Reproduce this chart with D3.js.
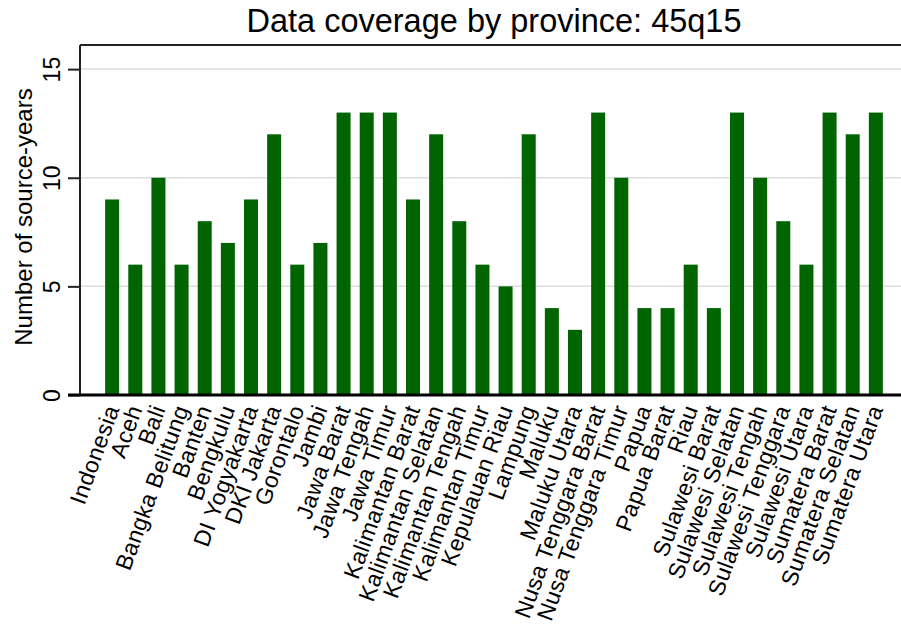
<!DOCTYPE html>
<html>
<head>
<meta charset="utf-8">
<script src="https://cdn.jsdelivr.net/npm/d3@7"></script>
<style>
  html, body { margin: 0; padding: 0; background: #fff; }
  svg { display: block; font-family: "Liberation Sans", Arial, sans-serif; }
</style>
</head>
<body>
<svg id="chart" width="901" height="625"></svg>
<script>
const provinces = [
  "Indonesia", "Aceh", "Bali", "Bangka Belitung", "Banten", "Bengkulu",
  "DI Yogyakarta", "DKI Jakarta", "Gorontalo", "Jambi", "Jawa Barat",
  "Jawa Tengah", "Jawa Timur", "Kalimantan Barat", "Kalimantan Selatan",
  "Kalimantan Tengah", "Kalimantan Timur", "Kepulauan Riau", "Lampung",
  "Maluku", "Maluku Utara", "Nusa Tenggara Barat", "Nusa Tenggara Timur",
  "Papua", "Papua Barat", "Riau", "Sulawesi Barat", "Sulawesi Selatan",
  "Sulawesi Tengah", "Sulawesi Tenggara", "Sulawesi Utara",
  "Sumatera Barat", "Sumatera Selatan", "Sumatera Utara"
];
const sourceYears = [
  9, 6, 10, 6, 8, 7,
  9, 12, 6, 7, 13,
  13, 13, 9, 12,
  8, 6, 5, 12,
  4, 3, 13, 10,
  4, 4, 6, 4, 13,
  10, 8, 6,
  13, 12, 13
];
const yTicks = [0, 5, 10, 15];
const yMax = 16.11;

const titleText = "Data coverage by province: 45q15";
const yTitle = "Number of source-years";

const svg = d3.select("#chart");
const plot = { left: 80, top: 45, bottom: 395, right: 906 };

const x = d3.scaleBand()
  .domain(provinces)
  .range([plot.left + 2, plot.right])
  .paddingInner(0.395)
  .paddingOuter(1)
  .align(0.5);

const y = d3.scaleLinear()
  .domain([0, yMax])
  .range([plot.bottom, plot.top]);

// horizontal grid lines
svg.append("g")
  .selectAll("line")
  .data(yTicks.filter(d => d > 0))
  .join("line")
  .attr("x1", plot.left)
  .attr("x2", 901)
  .attr("y1", d => y(d))
  .attr("y2", d => y(d))
  .attr("stroke", "#dedede")
  .attr("stroke-width", 1.5);

// bars
svg.append("g")
  .selectAll("rect")
  .data(provinces.map((p, i) => ({ p, v: sourceYears[i] })))
  .join("rect")
  .attr("x", d => x(d.p))
  .attr("width", x.bandwidth())
  .attr("y", d => y(d.v))
  .attr("height", d => y(0) - y(d.v))
  .attr("fill", "#006400");

// top frame line
svg.append("line")
  .attr("x1", plot.left).attr("x2", 901)
  .attr("y1", plot.top).attr("y2", plot.top)
  .attr("stroke", "#222").attr("stroke-width", 2);

// y axis
const yAxis = d3.axisLeft(y)
  .tickValues(yTicks)
  .tickSize(12)
  .tickPadding(0)
  .tickFormat(d3.format("d"));

const gy = svg.append("g")
  .attr("transform", `translate(${plot.left},0)`)
  .call(yAxis);
gy.select(".domain")
  .attr("d", `M0,${plot.top}V${plot.bottom}`)
  .attr("stroke", "#222")
  .attr("stroke-width", 2);
gy.selectAll(".tick line").attr("stroke", "#222").attr("stroke-width", 2);
gy.selectAll(".tick text")
  .attr("x", null).attr("dy", null)
  .attr("text-anchor", "middle")
  .attr("transform", "translate(-20,0) rotate(-90)")
  .attr("font-size", 23)
  .attr("font-family", "Liberation Sans, Arial, sans-serif")
  .attr("fill", "#000");

// x axis baseline
svg.append("line")
  .attr("x1", 68).attr("x2", 901)
  .attr("y1", plot.bottom).attr("y2", plot.bottom)
  .attr("stroke", "#000").attr("stroke-width", 3);

// category labels
svg.append("g")
  .selectAll("text")
  .data(provinces)
  .join("text")
  .attr("transform", d => `translate(${x(d) + x.bandwidth() / 2},406) rotate(-70)`)
  .attr("text-anchor", "end")
  .attr("dy", "0.35em")
  .attr("font-size", 23)
  .attr("letter-spacing", 0.4)
  .attr("fill", "#000")
  .text(d => d);

// y axis title
svg.append("text")
  .attr("transform", "translate(32,217) rotate(-90)")
  .attr("text-anchor", "middle")
  .attr("font-size", 24)
  .attr("fill", "#000")
  .text(yTitle);

// chart title
svg.append("text")
  .attr("x", 494)
  .attr("y", 32)
  .attr("text-anchor", "middle")
  .attr("font-size", 32.5)
  .attr("fill", "#000")
  .text(titleText);
</script>
</body>
</html>
